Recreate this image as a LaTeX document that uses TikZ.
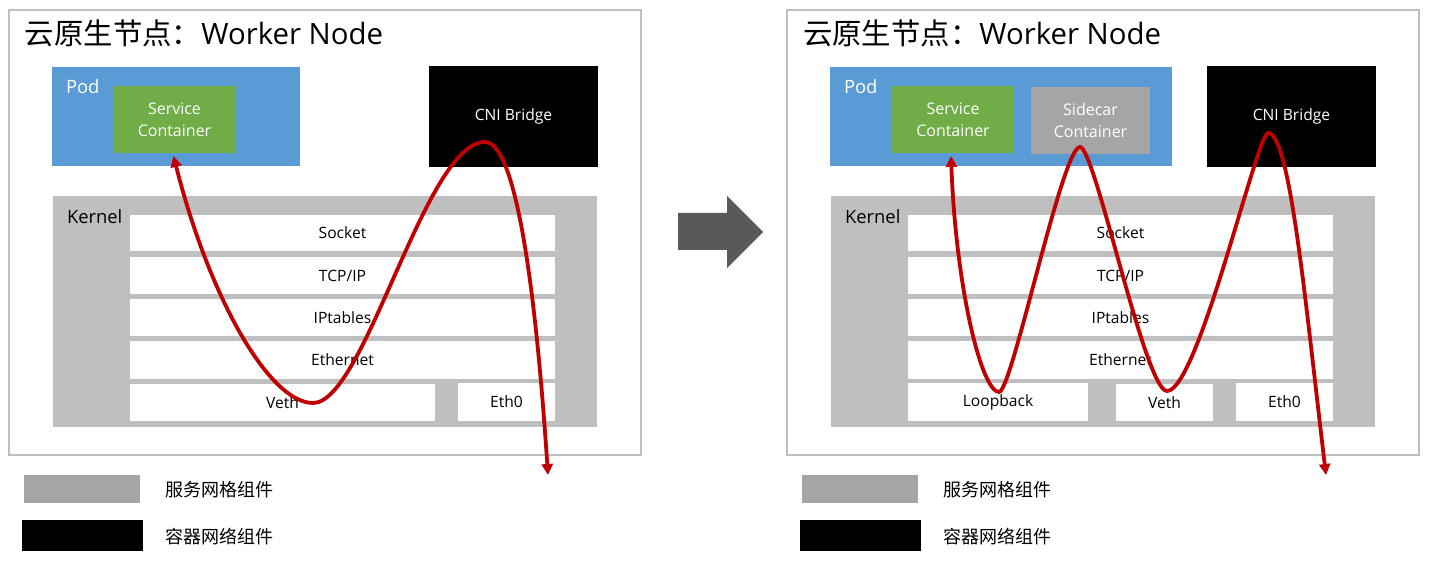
\documentclass[tikz,border=0pt]{standalone}
\usepackage{fontspec}
\setmainfont{Open Sans}
\newfontfamily\cjk{Noto Sans CJK SC}
\usetikzlibrary{arrows.meta,calc}
\definecolor{podblue}{HTML}{5B9BD5}
\definecolor{svcgreen}{HTML}{70AD47}
\definecolor{sidegray}{HTML}{A5A5A5}
\definecolor{kergray}{HTML}{BFBFBF}
\definecolor{flowred}{HTML}{C00000}
\definecolor{bigarrow}{HTML}{595959}
\newcommand\mkbox[7]{%
  \pgfmathsetmacro\bxw{(#4-#2)*0.5}\pgfmathsetmacro\bxh{(#5-#3)*0.5}%
  \node[#6, minimum width=\bxw pt, minimum height=\bxh pt, anchor=north west] (#1) at (#2,#3) {#7};}
\begin{document}
\begin{tikzpicture}[x=0.5pt,y=-0.5pt,
  every node/.style={inner sep=0pt, outer sep=0pt},
  frame/.style={draw=kergray, line width=1pt, fill=white},
  podbox/.style={fill=podblue},
  svcbox/.style={fill=svcgreen, text=white, align=center, font=\fontsize{8}{10.85}\selectfont},
  sidebox/.style={fill=sidegray, text=white, align=center, font=\fontsize{8}{10.85}\selectfont},
  cnibox/.style={fill=black, text=white, font=\fontsize{7.8}{10}\selectfont},
  kernbox/.style={fill=kergray},
  layer/.style={fill=white, font=\fontsize{7.8}{10}\selectfont},
  biglabel/.style={anchor=base west, font=\fontsize{9.2}{11}\selectfont},
  titletext/.style={anchor=base west, font=\fontsize{14.7}{17}\selectfont},
  legtext/.style={anchor=west, font=\cjk\fontsize{9}{11}\selectfont},
  flow/.style={draw=flowred, line width=1.9pt, {Triangle[length=5.5pt,width=5.5pt]}-{Triangle[length=5.5pt,width=5.5pt]}}
]
\useasboundingbox[fill=white] (0,0) rectangle (1429,566);

% ---------- left panel ----------
\mkbox{outerL}{9}{10}{641}{455}{frame}{}
\node[titletext] (titleL) at (25,45) {{\cjk 云原生节点：}Worker Node};
\mkbox{podL}{52}{67}{300}{166}{podbox}{}
\node[biglabel, text=white] (podlabL) at (66,94) {Pod};
\mkbox{svcL}{114}{86}{235}{153}{svcbox}{Service\\Container}
\mkbox{cniL}{429}{66}{598}{167}{cnibox}{CNI Bridge}
\mkbox{kernL}{53}{196}{597}{427}{kernbox}{}
\node[biglabel] (kernlabL) at (67,224) {Kernel};
\mkbox{sockL}{130}{215}{555}{251}{layer}{Socket}
\mkbox{tcpL}{130}{257}{555}{294}{layer}{TCP/IP}
\mkbox{iptL}{130}{299}{555}{336}{layer}{IPtables}
\mkbox{ethL}{130}{341}{555}{379}{layer}{Ethernet}
\mkbox{vethL}{130}{384}{435}{421}{layer}{Veth}
\mkbox{eth0L}{458}{383}{555}{421}{layer}{Eth0}

\coordinate (lvL) at (313,403);
\coordinate (lpL) at (485,142);
\coordinate (endL) at (548,475);
\draw[flow] ($(svcL.south)+(-1,3)$) .. controls (210,300) and (270,403) .. (lvL)
  .. controls (365,403) and (425,142) .. (lpL)
  .. controls (515,142) and (535,280) .. (endL);

% legend left
\mkbox{leggL}{24}{475}{140}{503}{fill=sidegray}{}
\mkbox{legbL}{22}{520}{143}{551}{fill=black}{}
\node[legtext] (legtgL) at (165,490) {服务网格组件};
\node[legtext] (legtbL) at (165,537) {容器网络组件};

% ---------- big arrow ----------
\fill[bigarrow] (678,213) -- (727,213) -- (727,196) -- (763,232) -- (727,268) -- (727,250) -- (678,250) -- cycle;

% ---------- right panel ----------
\mkbox{outerR}{787}{10}{1419}{455}{frame}{}
\node[titletext] (titleR) at (803,45) {{\cjk 云原生节点：}Worker Node};
\mkbox{podR}{830}{67}{1172}{166}{podbox}{}
\node[biglabel, text=white] (podlabR) at (844,94) {Pod};
\mkbox{svcR}{892}{86}{1014}{153}{svcbox}{Service\\Container}
\mkbox{sideR}{1031}{87}{1150}{154}{sidebox}{Sidecar\\Container}
\mkbox{cniR}{1207}{66}{1376}{167}{cnibox}{CNI Bridge}
\mkbox{kernR}{831}{196}{1375}{427}{kernbox}{}
\node[biglabel] (kernlabR) at (845,224) {Kernel};
\mkbox{sockR}{908}{215}{1333}{251}{layer}{Socket}
\mkbox{tcpR}{908}{257}{1333}{294}{layer}{TCP/IP}
\mkbox{iptR}{908}{299}{1333}{336}{layer}{IPtables}
\mkbox{ethR}{908}{341}{1333}{379}{layer}{Ethernet}
\mkbox{loopR}{908}{383}{1088}{421}{layer}{Loopback}
\mkbox{vethR}{1116}{384}{1213}{421}{layer}{Veth}
\mkbox{eth0R}{1236}{383}{1333}{421}{layer}{Eth0}

\coordinate (lbR) at (999,392);
\coordinate (spR) at (1080,147);
\coordinate (vbR) at (1167,391);
\coordinate (cpR) at (1268,133);
\coordinate (endR) at (1326,475);
\draw[flow] ($(svcR.south)+(-2,3)$) .. controls (956,290) and (982,392) .. (lbR)
  .. controls (1012,392) and (1062,147) .. (spR)
  .. controls (1095,147) and (1145,391) .. (vbR)
  .. controls (1198,391) and (1257,133) .. (cpR)
  .. controls (1290,133) and (1305,300) .. (endR);

% legend right
\mkbox{leggR}{802}{475}{918}{503}{fill=sidegray}{}
\mkbox{legbR}{800}{520}{921}{551}{fill=black}{}
\node[legtext] (legtgR) at (943,490) {服务网格组件};
\node[legtext] (legtbR) at (943,537) {容器网络组件};
\end{tikzpicture}
\end{document}
